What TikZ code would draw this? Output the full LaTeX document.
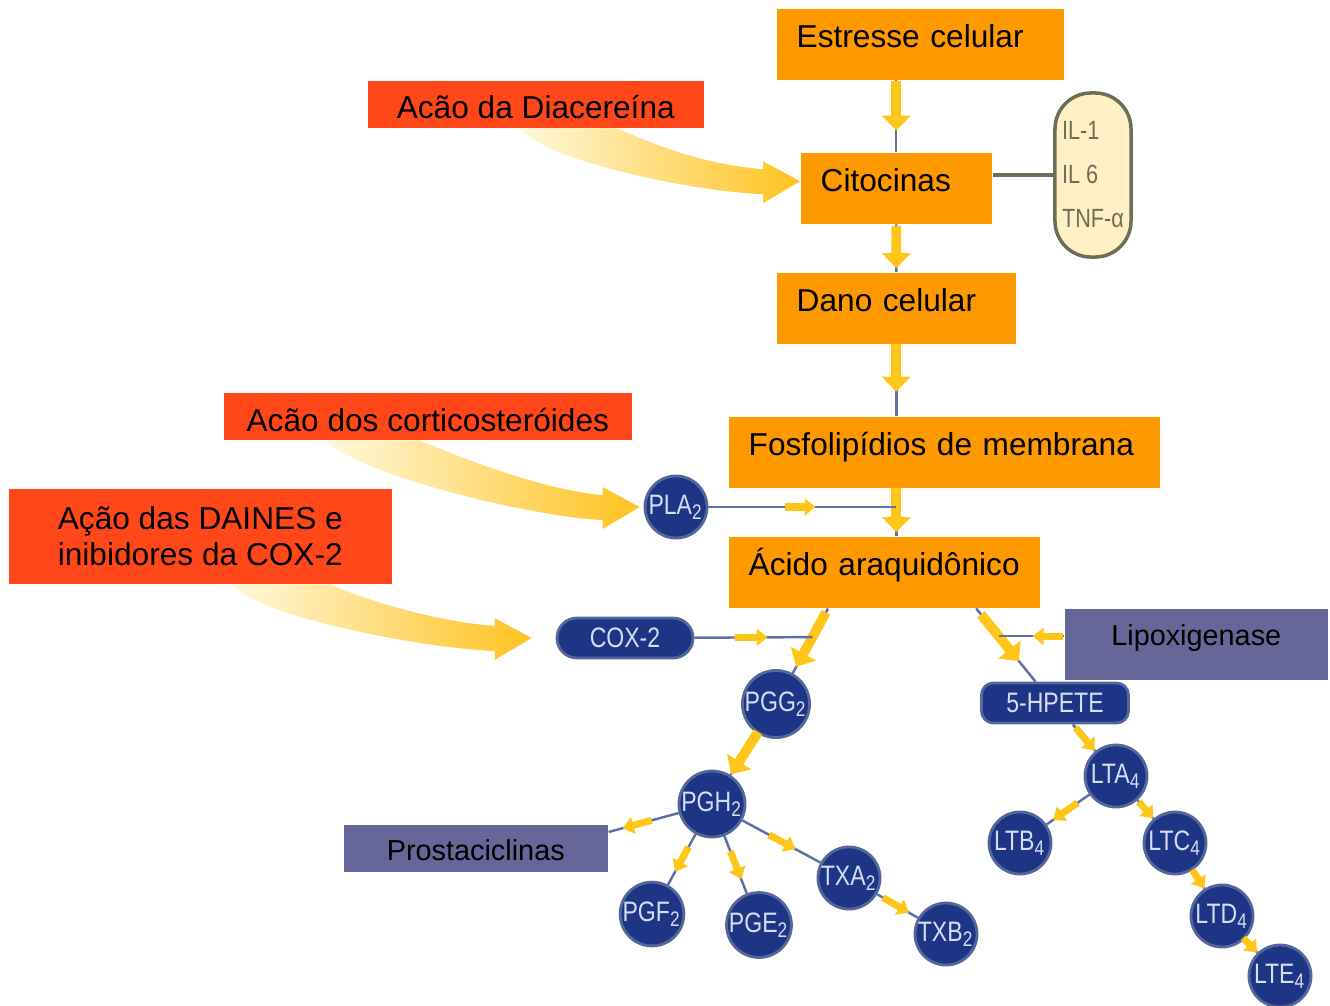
\documentclass[tikz,border=0pt]{standalone}
\usepackage{fontspec}
\setmainfont{Liberation Sans}
\newfontfamily\estreita[FakeStretch=0.82]{Liberation Sans}
\usetikzlibrary{arrows.meta,calc,decorations.markings,shapes.misc}

\definecolor{laranja}{HTML}{FF9900}
\definecolor{vermelho}{HTML}{FF4719}
\definecolor{roxo}{HTML}{666699}
\definecolor{azul}{HTML}{1E3484}
\definecolor{azulBorda}{HTML}{55679A}
\definecolor{azulTexto}{HTML}{D4DCF4}
\definecolor{linhaAzul}{HTML}{5E70A8}
\definecolor{amarelo}{HTML}{FFC61A}
\definecolor{creme}{HTML}{FFF8DC}
\definecolor{pessego}{HTML}{FFD9A0}
\definecolor{ouro}{HTML}{FFC21F}
\definecolor{bege}{HTML}{FFEFC4}
\definecolor{cinza}{HTML}{6E6E58}

% seta larga e curva que sai de uma caixa de acao
\newcommand{\setacurva}[3]{% cauda esq., cauda dir., ponta
  \shade[left color=creme, middle color=pessego, right color=ouro]
    (#1) .. controls ($(#1)+(25,32)$) and ($(#3)+(-110,10)$) .. ($(#3)+(-37,13)$)
    -- ($(#3)+(-37,22)$) -- (#3) -- ($(#3)+(-37,-20)$) -- ($(#3)+(-37,-12)$)
    .. controls ($(#3)+(-97,-17)$) and ($(#2)+(40,17)$) .. (#2) -- cycle;
}

\tikzset{
  caixa/.style={fill=laranja, anchor=north west, align=left, inner xsep=0.2cm,
    inner ysep=0pt, text height=0.39cm, text depth=0.32cm,
    font=\fontsize{9}{11}\selectfont},
  acao/.style={fill=vermelho, anchor=north west, inner sep=0pt,
    font=\fontsize{9}{10.2}\selectfont},
  enzima/.style={fill=roxo, anchor=north west, inner sep=0pt,
    font=\fontsize{8.2}{10}\selectfont},
  mol/.style={circle, fill=azul, draw=azulBorda, line width=0.8pt,
    minimum size=0.62cm, inner sep=0pt, text=azulTexto,
    font=\estreita\fontsize{8}{9}\selectfont},
  pilula/.style={mol, rectangle, minimum height=0.40cm},
  linha/.style={draw=linhaAzul, line width=0.7pt},
  seta/.style={draw=amarelo, line width=2.8pt, -{Triangle[width=0.28cm,length=0.15cm]}},
  setinha/.style={draw=amarelo, line width=2pt, -{Triangle[width=0.17cm,length=0.11cm]}},
  fluxo/.style 2 args={linha, postaction={decorate, decoration={markings,
    mark=at position #1 with {\draw[seta] (-#2,0) -- (0,0);}}}},
  fluxinho/.style 2 args={linha, postaction={decorate, decoration={markings,
    mark=at position #1 with {\draw[setinha] (-#2,0) -- (0,0);}}}}
}

\begin{document}
\begin{tikzpicture}[x=0.01cm, y=-0.01cm]
\useasboundingbox (0,0) rectangle (1330,1005);

% caixas principais
\node[caixa, text width=2.47cm] (est) at (776,8) {Estresse celular};
\node[caixa, text width=1.51cm] (cit) at (800,152) {Citocinas};
\node[caixa, text width=1.99cm] (dano) at (776,272) {Dano celular};
\node[caixa, text width=3.91cm] (fosf) at (728,416) {Fosfolipídios de membrana};
\node[caixa, text width=2.71cm] (acido) at (728,536) {Ácido araquidônico};

% acoes dos farmacos
\node[acao, minimum width=3.36cm, text height=0.38cm, text depth=0.09cm] (diac) at (367,80) {Acão da Diacereína};
\node[acao, minimum width=4.08cm, text height=0.39cm, text depth=0.08cm] (cort) at (223,392) {Acão dos corticosteróides};
\node[acao, minimum width=3.83cm, minimum height=0.95cm, align=left] (daines) at (8,488) {Ação das DAINES e\\inibidores da COX-2};

% enzimas
\node[enzima, minimum width=2.63cm, text height=0.365cm, text depth=0.345cm] (lipo) at (1064,608) {Lipoxigenase};
\node[enzima, minimum width=2.64cm, text height=0.36cm, text depth=0.11cm] (prost) at (343,824) {Prostaciclinas};

% interleucinas
\node[rectangle, rounded corners=0.36cm, fill=bege, draw=cinza, line width=1pt,
  minimum width=0.76cm, minimum height=1.64cm, inner sep=1pt, text=cinza, align=left,
  font=\estreita\fontsize{7.5}{12.5}\selectfont] (il) at (1093,175) {IL-1\\IL 6\\TNF-α};
\draw[cinza, line width=1pt] (il.west -| cit.east) -- (il.west);

% metabolitos
\node[mol] (pla) at (676,507) {PLA\textsubscript{2}};
\node[pilula, rounded rectangle, minimum width=1.36cm] (cox) at (625,638) {COX-2};
\node[mol] (pgg) at (776,704) {PGG\textsubscript{2}};
\node[mol] (pgh) at (712,804) {PGH\textsubscript{2}};
\node[mol] (pgf) at (652,914) {PGF\textsubscript{2}};
\node[mol] (pge) at (759,925) {PGE\textsubscript{2}};
\node[mol] (txa) at (849,878) {TXA\textsubscript{2}};
\node[mol] (txb) at (946,934) {TXB\textsubscript{2}};
\node[pilula, rounded corners=0.12cm, minimum width=1.47cm] (hpete) at (1055,703) {5-HPETE};
\node[mol] (lta) at (1116,776) {LTA\textsubscript{4}};
\node[mol] (ltb) at (1020,843) {LTB\textsubscript{4}};
\node[mol] (ltc) at (1175,843) {LTC\textsubscript{4}};
\node[mol] (ltd) at (1222,916) {LTD\textsubscript{4}};
\node[mol] (lte) at (1280,976) {LTE\textsubscript{4}};

% cascata principal
\draw[fluxo={0.70}{0.5cm}] (est.south -| cit.north) -- (cit.north);
\draw[fluxo={0.92}{0.42cm}] (cit) -- (dano);
\draw[fluxo={0.66}{0.48cm}] (dano) -- (dano.south |- fosf.north);
\draw[fluxo={0.92}{0.44cm}] (fosf.south -| dano.south) -- (acido.north -| dano.south);
\coordinate (jPla) at (pla -| dano.south);
\draw[fluxinho={0.57}{0.3cm}] (pla) -- (jPla);

% via da ciclooxigenase
\coordinate (aEsq) at ($(acido.south west)!0.32!(acido.south east)$);
\draw[fluxo={0.90}{0.62cm}] (aEsq) -- (pgg);
\coordinate (jCox) at ($(aEsq)!0.30!(pgg.center)$);
\draw[fluxinho={0.62}{0.33cm}] (cox) -- (jCox);
\draw[fluxo={0.98}{0.5cm}] (pgg) -- (pgh);
\coordinate (pE) at ($(prost.north east)+(0,8)$);
\draw[fluxinho={0.8}{0.3cm}] (pgh) -- (pE);
\draw[fluxinho={0.74}{0.28cm}] (pgh) -- (pgf);
\draw[fluxinho={0.75}{0.3cm}] (pgh) -- (pge);
\draw[fluxinho={0.68}{0.3cm}] (pgh) -- (txa);
\draw[fluxinho={0.78}{0.3cm}] (txa) -- (txb);

% via da lipoxigenase
\coordinate (aDir) at ($(acido.south west)!0.794!(acido.south east)$);
\coordinate (hTopo) at ($(hpete.north west)!0.37!(hpete.north east)$);
\draw[fluxo={0.72}{0.6cm}] (aDir) -- (hTopo);
\coordinate (jLipo) at ($(aDir)!0.38!(hTopo)$);
\draw[fluxinho={0.48}{0.3cm}] (jLipo -| lipo.west) -- (jLipo);
\coordinate (hBase) at ($(hpete.south west)!0.62!(hpete.south east)$);
\draw[fluxinho={0.98}{0.3cm}] (hBase) -- (lta);
\draw[fluxinho={0.85}{0.3cm}] (lta) -- (ltb);
\draw[fluxinho={0.98}{0.22cm}] (lta) -- (ltc);
\draw[fluxinho={0.98}{0.22cm}] (ltc) -- (ltd);
\draw[fluxinho={0.98}{0.2cm}] (ltd) -- (lte);

% setas largas das acoes
\coordinate (cDiacE) at ($(diac.south west)+(153,0)$);
\coordinate (cDiacD) at ($(diac.south west)+(250,0)$);
\coordinate (pDiac) at ($(cit.west)+(0,-7)$);
\setacurva{cDiacE}{cDiacD}{pDiac}
\coordinate (cCortE) at ($(cort.south west)+(104,0)$);
\coordinate (cCortD) at ($(cort.south west)+(197,0)$);
\coordinate (pCort) at ($(pla.west)+(-4,0)$);
\setacurva{cCortE}{cCortD}{pCort}
\coordinate (cDainE) at ($(daines.south west)+(224,0)$);
\coordinate (cDainD) at ($(daines.south west)+(322,0)$);
\coordinate (pDain) at ($(cox.west)+(-24,0)$);
\setacurva{cDainE}{cDainD}{pDain}
\end{tikzpicture}
\end{document}
